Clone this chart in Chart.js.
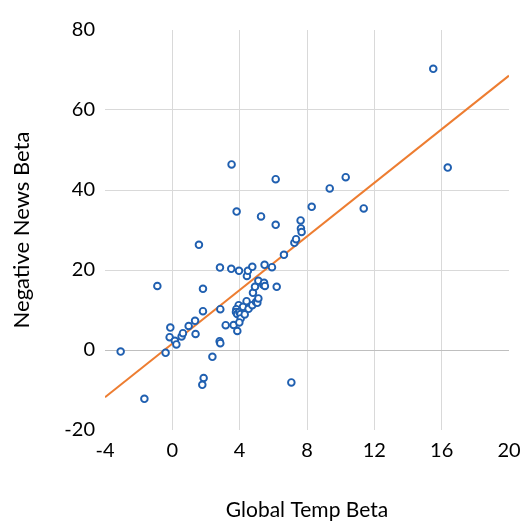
<!DOCTYPE html>
<html>
<head>
<meta charset="utf-8">
<script src="https://cdn.jsdelivr.net/npm/chart.js@4"></script>
<style>
  html, body { margin: 0; padding: 0; background: #fff; }
  #wrap { width: 525px; height: 521px; }
</style>
</head>
<body>
<div id="wrap"><canvas id="chart" width="525" height="521"></canvas></div>
<script>
// Streudiagramm: Global Temp Beta vs. Negative News Beta
const tempBeta = [
  -3.07, -1.66, -0.89, -0.40, -0.12, -0.16, 0.15, 0.24, 0.55, 0.63,
  0.97, 1.35, 1.38, 1.58, 1.82, 1.82, 1.86, 1.78, 2.38, 2.81,
  2.85, 2.85, 2.83, 3.17, 3.50, 3.52, 3.64, 3.82, 3.86, 3.96,
  3.94, 3.80, 3.78, 3.85, 3.98, 4.05, 4.06, 3.98, 4.20, 4.30,
  4.43, 4.49, 4.41, 4.53, 4.75, 4.75, 4.79, 4.91, 4.97, 5.05,
  5.11, 5.11, 5.27, 5.40, 5.45, 5.50, 5.48, 5.92, 6.14, 6.14,
  6.20, 6.63, 7.07, 7.25, 7.35, 7.62, 7.64, 7.68, 8.28, 9.35,
  10.30, 11.37, 15.50, 16.36
];
const newsBeta = [
  -0.4, -12.2, 16.0, -0.7, 5.6, 3.2, 2.3, 1.4, 3.4, 4.2,
  6.0, 7.3, 4.0, 26.3, 15.3, 9.7, -7.0, -8.7, -1.7, 2.2,
  1.7, 10.2, 20.6, 6.2, 20.3, 46.4, 6.25, 34.6, 4.75, 19.8,
  11.2, 10.2, 9.5, 9.0, 9.5, 9.0, 7.9, 6.9, 10.8, 8.9,
  18.5, 19.8, 12.2, 10.3, 11.2, 20.8, 14.3, 15.8, 12.0, 11.8,
  12.9, 17.3, 33.4, 16.3, 16.8, 16.0, 21.3, 20.7, 42.7, 31.3,
  15.8, 23.8, -8.1, 26.8, 27.7, 32.4, 30.4, 29.5, 35.8, 40.4,
  43.2, 35.4, 70.3, 45.6
];

// Trendlinie (linear)
const trendX = [-4, 20];
const trendY = [-11.8, 68.6];

const xTicks = [-4, 0, 4, 8, 12, 16, 20];
const yTicks = [-20, 0, 20, 40, 60, 80];

const fontFamily = "Lato, 'Open Sans', sans-serif";

const ctx = document.getElementById('chart').getContext('2d');
new Chart(ctx, {
  type: 'scatter',
  data: {
    datasets: [
      {
        label: 'Negative News Beta',
        data: tempBeta.map((x, i) => ({ x: x, y: newsBeta[i] })),
        pointStyle: 'circle',
        pointRadius: 3.3,
        pointBorderWidth: 1.9,
        borderColor: '#1F5FB0',
        backgroundColor: '#ffffff',
        order: 1
      },
      {
        type: 'line',
        label: 'Trend',
        data: trendX.map((x, i) => ({ x: x, y: trendY[i] })),
        borderColor: '#ED7D31',
        borderWidth: 2,
        pointRadius: 0,
        fill: false,
        order: 2
      }
    ]
  },
  options: {
    responsive: false,
    animation: false,
    layout: { padding: { top: 30, right: 0, left: 0, bottom: 0 } },
    plugins: {
      legend: { display: false },
      tooltip: { enabled: false }
    },
    scales: {
      x: {
        type: 'linear',
        min: -4,
        max: 20,
        afterBuildTicks: s => { s.ticks = xTicks.map(v => ({ value: v })); },
        afterFit: s => { s.height = 91; s.paddingRight = 16; s.paddingLeft = 0; },
        border: { display: false },
        grid: {
          drawTicks: false,
          color: c => (c.tick.value === -4 || c.tick.value === 20) ? 'rgba(0,0,0,0)' : '#d9d9d9'
        },
        ticks: {
          padding: 9,
          color: '#000',
          font: { family: fontFamily, size: 20 }
        },
        title: {
          display: true,
          text: 'Global Temp Beta',
          color: '#000',
          font: { family: fontFamily, size: 21, lineHeight: 1 },
          padding: { top: 0, bottom: 0 }
        }
      },
      y: {
        type: 'linear',
        min: -20,
        max: 80,
        afterBuildTicks: s => { s.ticks = yTicks.map(v => ({ value: v })); },
        afterFit: s => { s.width = 105; },
        border: { display: false },
        grid: {
          drawTicks: false,
          color: c => {
            const v = c.tick.value;
            if (v === 80 || v === -20) return 'rgba(0,0,0,0)';
            return v === 0 ? '#bfbfbf' : '#d9d9d9';
          }
        },
        ticks: {
          padding: 10,
          color: '#000',
          font: { family: fontFamily, size: 20 }
        },
        title: {
          display: true,
          text: 'Negative News Beta',
          color: '#000',
          font: { family: fontFamily, size: 22, lineHeight: 1 },
          padding: { top: 11, bottom: 0 }
        }
      }
    }
  }
});
</script>
</body>
</html>
